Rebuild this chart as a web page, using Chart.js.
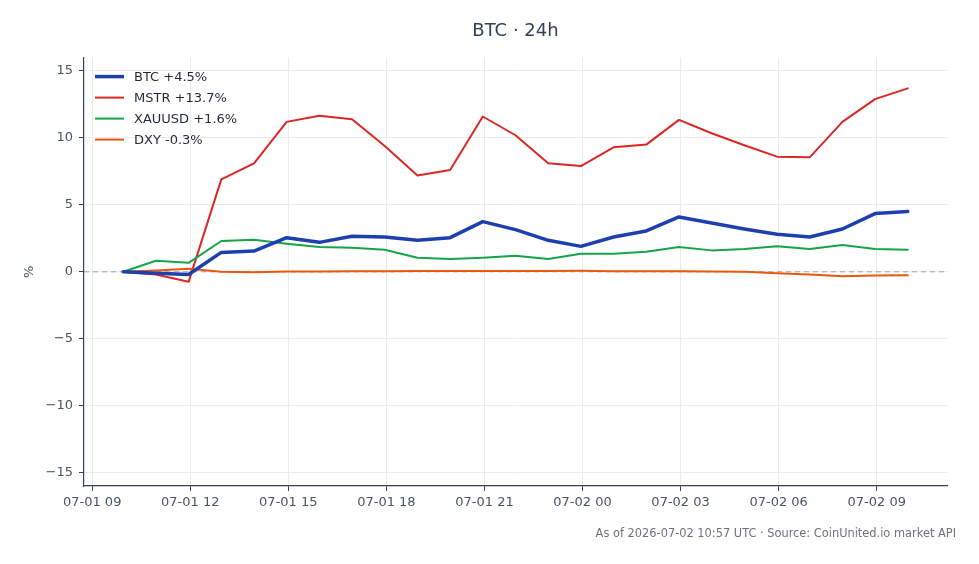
<!DOCTYPE html>
<html>
<head>
<meta charset="utf-8">
<title>BTC 24h</title>
<script src="https://cdn.jsdelivr.net/npm/chart.js@4.4.1/dist/chart.umd.min.js"></script>
<style>
  html, body { margin: 0; padding: 0; background: #fff; }
  #wrap { width: 979px; height: 564px; }
</style>
</head>
<body>
<div id="wrap"><canvas id="btc-chart" width="979" height="564"></canvas></div>
<script>
// hourly samples, UTC (MM-DD HH:MM)
const times = [
  "07-01 09:57", "07-01 10:57", "07-01 11:57", "07-01 12:57", "07-01 13:57",
  "07-01 14:57", "07-01 15:57", "07-01 16:57", "07-01 17:57", "07-01 18:57",
  "07-01 19:57", "07-01 20:57", "07-01 21:57", "07-01 22:57", "07-01 23:57",
  "07-02 00:57", "07-02 01:57", "07-02 02:57", "07-02 03:57", "07-02 04:57",
  "07-02 05:57", "07-02 06:57", "07-02 07:57", "07-02 08:57", "07-02 09:57"
];

// % change since start
const btc  = [0, -0.1, -0.2, 1.45, 1.55, 2.55, 2.2, 2.65, 2.6, 2.35, 2.55, 3.75, 3.15, 2.35, 1.9, 2.6, 3.05, 4.1, 3.65, 3.2, 2.8, 2.6, 3.2, 4.35, 4.5];
const mstr = [0, -0.2, -0.75, 6.9, 8.1, 11.2, 11.65, 11.4, 9.4, 7.2, 7.6, 11.6, 10.2, 8.1, 7.9, 9.3, 9.5, 11.35, 10.35, 9.45, 8.6, 8.55, 11.2, 12.9, 13.7];
const xau  = [0, 0.82, 0.67, 2.3, 2.4, 2.1, 1.85, 1.8, 1.65, 1.05, 0.95, 1.05, 1.2, 0.95, 1.35, 1.35, 1.5, 1.85, 1.6, 1.7, 1.9, 1.7, 2.0, 1.7, 1.64];
const dxy  = [0, 0.1, 0.22, 0.0, -0.03, 0.02, 0.03, 0.05, 0.05, 0.06, 0.06, 0.06, 0.06, 0.06, 0.07, 0.04, 0.04, 0.05, 0.02, 0.01, -0.1, -0.2, -0.33, -0.28, -0.26];

const xTickLabels = ["07-01 09", "07-01 12", "07-01 15", "07-01 18", "07-01 21", "07-02 00", "07-02 03", "07-02 06", "07-02 09"];
const yTicks = [-15, -10, -5, 0, 5, 10, 15];

const FONT = "DejaVu Sans";
const TEXT = "#475569";
const SPINE = "#334155";

// "07-01 09:57" -> hours since 07-01 00:00
function toHours(s) {
  const day = parseInt(s.slice(3, 5), 10);
  const hh = parseInt(s.slice(6, 8), 10);
  const mm = s.length > 8 ? parseInt(s.slice(9, 11), 10) : 0;
  return (day - 1) * 24 + hh + mm / 60;
}
const xTickHours = xTickLabels.map(toHours);

function series(values) {
  return values.map((v, i) => ({ x: toHours(times[i]), y: v }));
}
function label(name, values) {
  const last = values[values.length - 1];
  return name + " " + (last >= 0 ? "+" : "") + last.toFixed(1) + "%";
}

const span = toHours(times[times.length - 1]) - toHours(times[0]);
const xMin = toHours(times[0]) - span * 0.05;
const xMax = toHours(times[times.length - 1]) + span * 0.05;

// dashed zero line, under the series
const zeroLine = {
  id: "zeroLine",
  beforeDatasetsDraw(chart) {
    const { ctx, chartArea } = chart;
    const y = chart.scales.y.getPixelForValue(0);
    ctx.save();
    ctx.strokeStyle = "#94a3b8";
    ctx.lineWidth = 1;
    ctx.setLineDash([5, 4]);
    ctx.beginPath();
    ctx.moveTo(chartArea.left, y);
    ctx.lineTo(chartArea.right, y);
    ctx.stroke();
    ctx.restore();
  }
};

// legend inside the plot, top-left
const insideLegend = {
  id: "insideLegend",
  afterDraw(chart) {
    const { ctx, chartArea } = chart;
    ctx.save();
    ctx.font = "13px '" + FONT + "'";
    ctx.textBaseline = "middle";
    chart.data.datasets.forEach((ds, i) => {
      const y = chartArea.top + 19 + i * 21;
      const x = chartArea.left + 11;
      ctx.strokeStyle = ds.borderColor;
      ctx.lineWidth = ds.borderWidth;
      ctx.setLineDash([]);
      ctx.beginPath();
      ctx.moveTo(x, y);
      ctx.lineTo(x + 29, y);
      ctx.stroke();
      ctx.fillStyle = "#1f2937";
      ctx.fillText(ds.label, x + 39, y + 1);
    });
    ctx.restore();
  }
};

const footer = {
  id: "footer",
  afterDraw(chart) {
    const ctx = chart.ctx;
    ctx.save();
    ctx.font = "11.4px '" + FONT + "'";
    ctx.fillStyle = "#6b7280";
    ctx.textAlign = "right";
    ctx.textBaseline = "middle";
    ctx.fillText("As of 2026-07-02 10:57 UTC · Source: CoinUnited.io market API", 956, 534);
    ctx.restore();
  }
};

let chartId = document.getElementById("btc-chart");

let BtcChart = new Chart(chartId, {
  type: "line",
  data: {
    datasets: [
      { label: label("BTC", btc), data: series(btc), borderColor: "#1e40af", borderWidth: 3.5, order: 0 },
      { label: label("MSTR", mstr), data: series(mstr), borderColor: "#dc2626", borderWidth: 2, order: 3 },
      { label: label("XAUUSD", xau), data: series(xau), borderColor: "#16a34a", borderWidth: 2, order: 2 },
      { label: label("DXY", dxy), data: series(dxy), borderColor: "#ea580c", borderWidth: 2, order: 1 }
    ]
  },
  options: {
    responsive: false,
    devicePixelRatio: 1,
    animation: false,
    elements: {
      point: { radius: 0 },
      line: { tension: 0, borderJoinStyle: "round", borderCapStyle: "round" }
    },
    layout: { padding: { left: 0, right: 32, top: 0, bottom: 46 } },
    plugins: {
      legend: { display: false },
      tooltip: { enabled: false },
      title: {
        display: true,
        text: "BTC · 24h",
        fullSize: false,
        color: SPINE,
        font: { family: FONT, size: 18, weight: "normal" },
        padding: { top: 21, bottom: 15 }
      }
    },
    scales: {
      x: {
        type: "linear",
        min: xMin,
        max: xMax,
        afterBuildTicks: (s) => { s.ticks = xTickHours.map(v => ({ value: v })); },
        afterFit: (s) => { s.height = 32; },
        ticks: {
          autoSkip: false,
          maxRotation: 0,
          padding: 4,
          color: TEXT,
          font: { family: FONT, size: 13 },
          callback: (v) => xTickLabels[xTickHours.indexOf(v)]
        },
        grid: { color: "#e8ebf0", lineWidth: 1, tickLength: 5, tickColor: SPINE },
        border: { color: SPINE, width: 1.2 }
      },
      y: {
        min: -16,
        max: 16,
        afterBuildTicks: (s) => { s.ticks = yTicks.map(v => ({ value: v })); },
        afterFit: (s) => { s.width = 84; },
        title: {
          display: true,
          text: "%",
          color: TEXT,
          font: { family: FONT, size: 13 },
          padding: { top: 22, bottom: 0 }
        },
        ticks: {
          padding: 6,
          color: TEXT,
          font: { family: FONT, size: 13 },
          callback: (v) => v < 0 ? "\u2212" + Math.abs(v) : String(v)
        },
        grid: { color: "#e8ebf0", lineWidth: 1, tickLength: 5, tickColor: SPINE },
        border: { color: SPINE, width: 1.2 }
      }
    }
  },
  plugins: [zeroLine, insideLegend, footer]
});
</script>
</body>
</html>
